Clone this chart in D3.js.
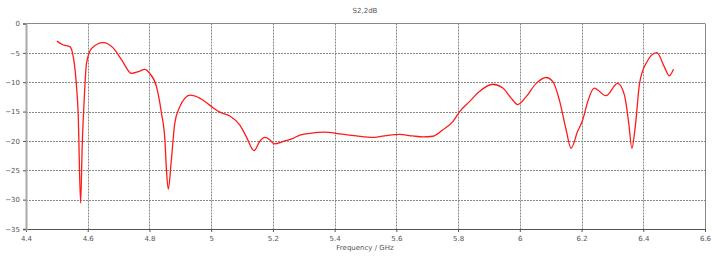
<!DOCTYPE html>
<html lang="en">
<head>
    <meta charset="UTF-8">
    <script src="https://d3js.org/d3.v7.min.js"></script>
    <style>
        body {margin: 0; background-color: #ffffff}
        svg {display: block;}
        text {font-family: "DejaVu Sans", sans-serif; fill: #555;}
    </style>
</head>
<body>
<svg class="chart"></svg>
<script type="text/javascript">
    // S2,2 in dB
    const freq = [4.5, 4.521, 4.542, 4.551, 4.562, 4.569, 4.577, 4.582, 4.589, 4.596, 4.613, 4.65, 4.683, 4.71,
        4.742, 4.764, 4.785, 4.801, 4.823, 4.839, 4.85, 4.855, 4.861, 4.871, 4.882, 4.898, 4.915, 4.931, 4.963,
        4.995, 5.028, 5.06, 5.093, 5.114, 5.139, 5.157, 5.173, 5.19, 5.204, 5.238, 5.265, 5.287, 5.319, 5.368,
        5.416, 5.47, 5.524, 5.578, 5.61, 5.653, 5.686, 5.718, 5.751, 5.783, 5.805, 5.837, 5.869, 5.912, 5.945,
        5.972, 5.993, 6.02, 6.053, 6.085, 6.107, 6.128, 6.15, 6.166, 6.187, 6.204, 6.22, 6.241, 6.279, 6.317,
        6.339, 6.353, 6.363, 6.374, 6.388, 6.409, 6.444, 6.468, 6.484, 6.498];
    const s22 = [-3.0, -3.66, -3.95, -5.08, -9.6, -15.3, -30.6, -21, -12.5, -6.8, -4.2, -3.27, -4.2, -6.2,
        -8.5, -8.2, -7.8, -8.5, -10.8, -15.3, -19.8, -24.9, -28.2, -23.2, -17, -14.2, -12.7, -12.2, -12.7,
        -13.9, -15.1, -15.75, -17.3, -19.3, -21.65, -20.1, -19.4, -19.8, -20.5, -20.0, -19.55, -19.0, -18.7, -18.5,
        -18.8, -19.15, -19.4, -19.0, -18.9, -19.15, -19.3, -19.2, -18.1, -16.7, -15.0, -13.3, -11.6, -10.35, -11.0,
        -12.7, -13.8, -12.5, -10.2, -9.2, -9.9, -13.0, -18.1, -21.25, -18.4, -16.4, -13.3, -11.0, -12.3, -10.2,
        -12.2, -17, -21.25, -17.6, -10.2, -6.8, -4.97, -7.35, -8.9, -7.8];
    const xTicks = [4.4, 4.6, 4.8, 5, 5.2, 5.4, 5.6, 5.8, 6, 6.2, 6.4, 6.6];
    const yTicks = [0, -5, -10, -15, -20, -25, -30, -35];

    const width = 712, height = 257;
    const plotLeft = 26, plotRight = 705, plotTop = 23.5, plotBottom = 229;

    const svg = d3.select('.chart')
        .attr('width', width)
        .attr('height', height);

    const x = d3.scaleLinear().domain([4.4, 6.6]).range([plotLeft, plotRight]);
    const y = d3.scaleLinear().domain([-35, 0]).range([plotBottom, plotTop]);

    // grid
    svg.append('g').selectAll('line').data(xTicks.slice(1, -1)).enter().append('line')
        .attr('x1', d => Math.round(x(d)) + 0.5).attr('x2', d => Math.round(x(d)) + 0.5)
        .attr('y1', plotTop).attr('y2', plotBottom)
        .attr('stroke', '#888').attr('stroke-dasharray', '2,1');
    svg.append('g').selectAll('line').data(yTicks.slice(1, -1)).enter().append('line')
        .attr('x1', plotLeft).attr('x2', plotRight)
        .attr('y1', d => Math.round(y(d)) + 0.5).attr('y2', d => Math.round(y(d)) + 0.5)
        .attr('stroke', '#888').attr('stroke-dasharray', '2,1');

    // frame
    svg.append('line').attr('x1', plotLeft).attr('x2', plotRight).attr('y1', plotTop).attr('y2', plotTop)
        .attr('stroke', '#888');
    svg.append('line').attr('x1', plotRight + 0.5).attr('x2', plotRight + 0.5).attr('y1', plotTop).attr('y2', plotBottom)
        .attr('stroke', '#888');

    const xAxis = svg.append('g').attr('transform', `translate(0,${plotBottom})`)
        .call(d3.axisBottom(x).tickValues(xTicks).tickSize(3).tickFormat(d3.format('')));
    xAxis.select('.domain').attr('stroke', '#555');
    xAxis.selectAll('line').attr('stroke', '#555');
    xAxis.selectAll('text').attr('font-size', 7).attr('dy', '0.9em').style('fill', '#555');

    const yAxis = svg.append('g').attr('transform', `translate(${plotLeft},0)`)
        .call(d3.axisLeft(y).tickValues(yTicks).tickSize(3).tickFormat(d3.format('')));
    yAxis.select('.domain').attr('stroke', '#aaa').attr('stroke-width', 2);
    yAxis.selectAll('line').attr('stroke', '#555');
    yAxis.selectAll('text').attr('font-size', 7).style('fill', '#555');

    // curve
    const pts = freq.map((f, i) => [f, s22[i]]);
    svg.append('path').datum(pts)
        .attr('fill', 'none')
        .attr('stroke', '#ff1a1a')
        .attr('stroke-width', 1.3)
        .attr('d', d3.line().x(d => x(d[0])).y(d => y(d[1])).curve(d3.curveMonotoneX));

    svg.append('text').attr('x', 365).attr('y', 13).attr('text-anchor', 'middle')
        .attr('font-size', 7).text('S2,2dB');
    svg.append('text').attr('x', 365).attr('y', 250).attr('text-anchor', 'middle')
        .attr('font-size', 7).text('Frequency / GHz');
</script>
</body>
</html>
